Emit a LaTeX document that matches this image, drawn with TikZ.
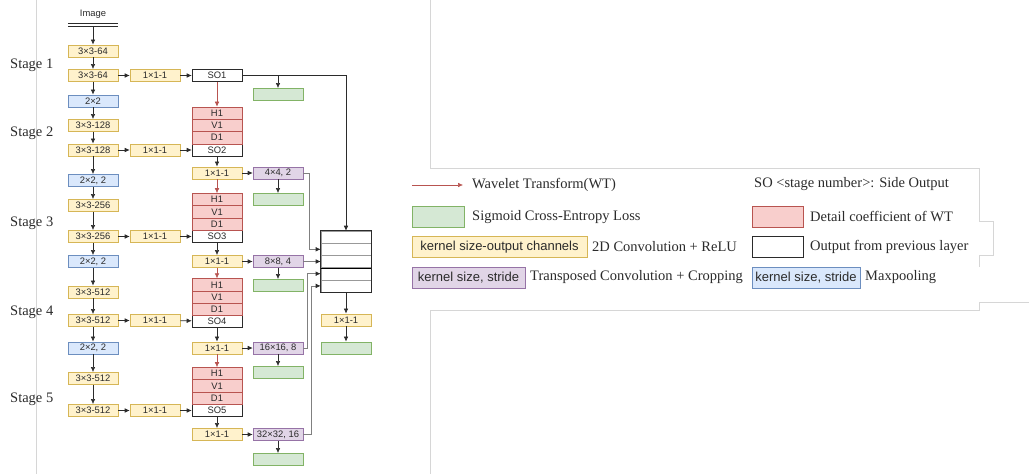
\documentclass[tikz,border=0pt]{standalone}
\usepackage{fontspec}
\setmainfont{Liberation Sans}
\newfontfamily\legendserif{Liberation Serif}
\usetikzlibrary{arrows.meta}

\definecolor{yfill}{HTML}{FFF2CC}\definecolor{ydraw}{HTML}{D6B656}
\definecolor{bfill}{HTML}{DAE8FC}\definecolor{bdraw}{HTML}{6C8EBF}
\definecolor{gfill}{HTML}{D5E8D4}\definecolor{gdraw}{HTML}{82B366}
\definecolor{rfill}{HTML}{F8CECC}\definecolor{rdraw}{HTML}{B85450}
\definecolor{pfill}{HTML}{E1D5E7}\definecolor{pdraw}{HTML}{9673A6}
\definecolor{ink}{HTML}{2B2B2B}
\definecolor{framegray}{HTML}{D6D6D6}

\begin{document}
\begin{tikzpicture}[x=1pt,y=-1pt,
  blk/.style={draw, minimum width=50pt, minimum height=12.3pt, inner sep=0pt,
    line width=0.6pt, font=\fontsize{9.4}{10}\selectfont, text=ink},
  conv/.style={blk, fill=yfill, draw=ydraw},
  pool/.style={blk, fill=bfill, draw=bdraw},
  loss/.style={blk, fill=gfill, draw=gdraw},
  wt/.style={blk, fill=rfill, draw=rdraw},
  deconv/.style={blk, fill=pfill, draw=pdraw},
  so/.style={blk, fill=white, draw=ink},
  cell/.style={draw=black!40, minimum width=50pt, minimum height=12.2pt, inner sep=0pt, line width=0.6pt},
  arr/.style={draw=ink, line width=0.6pt, -{Latex[length=5pt,width=4.6pt]}},
  wtarr/.style={draw=rdraw, line width=0.6pt, -{Latex[length=5pt,width=4.6pt]}},
  fuse/.style={draw=black!50, line width=0.6pt, -{Latex[length=5pt,width=4.6pt,color=ink]}},
  serif/.style={anchor=west, inner sep=0pt, text=ink, font=\legendserif\fontsize{14.5}{16}\selectfont},
  legbox/.style={draw, minimum height=21pt, inner sep=0pt, line width=0.8pt, text=ink,
    font=\fontsize{13}{15}\selectfont},
  framed/.style={draw=framegray, line width=0.8pt}
  ]
\useasboundingbox (0,0) rectangle (1029,474);

% page frame lines
\draw[framed] (36,0) -- (36,474);
\draw[framed] (430,0) -- (430,168) -- (979,168) -- (979,221) -- (993,221) -- (993,255) -- (979,255) -- (979,267);
\draw[framed] (430,474) -- (430,310) -- (979,310) -- (979,302) -- (1029,302);

% stage labels
\node[serif] (st1) at (10,65) {Stage 1};
\node[serif] (st2) at (10,133) {Stage 2};
\node[serif] (st3) at (10,223) {Stage 3};
\node[serif] (st4) at (10,312) {Stage 4};
\node[serif] (st5) at (10,399) {Stage 5};

% input
\node[font=\fontsize{9.4}{10}\selectfont, text=ink] (img) at (93,14) {Image};
\node[minimum width=50pt, minimum height=2.5pt, inner sep=0pt] (bar) at (93,25.2) {};
\draw[ink, line width=0.6pt] (bar.north west) -- (bar.north east) (bar.south west) -- (bar.south east);

% backbone
\node[conv] (a1) at (93,51) {3×3-64};
\node[conv] (a2) at (93,75.5) {3×3-64};
\node[pool] (p1) at (93,101) {2×2};
\node[conv] (a3) at (93,125.5) {3×3-128};
\node[conv] (a4) at (93,150) {3×3-128};
\node[pool] (p2) at (93,180.5) {2×2, 2};
\node[conv] (a5) at (93,205.5) {3×3-256};
\node[conv] (a6) at (93,236.5) {3×3-256};
\node[pool] (p3) at (93,261.5) {2×2, 2};
\node[conv] (a7) at (93,292) {3×3-512};
\node[conv] (a8) at (93,320.5) {3×3-512};
\node[pool] (p4) at (93,348) {2×2, 2};
\node[conv] (a9) at (93,378.5) {3×3-512};
\node[conv] (a10) at (93,410.5) {3×3-512};

% side 1x1 convolutions
\node[conv] (b1) at (155,75.5) {1×1-1};
\node[conv] (b2) at (155,150) {1×1-1};
\node[conv] (b3) at (155,236.5) {1×1-1};
\node[conv] (b4) at (155,320.5) {1×1-1};
\node[conv] (b5) at (155,410.5) {1×1-1};

% side outputs with wavelet detail coefficients
\node[so] (so1) at (217,75.5) {SO1};

\node[so] (so2) at (217,150) {SO2};
\node[wt] (d2) at (217,137.7) {D1};
\node[wt] (v2) at (217,125.4) {V1};
\node[wt] (h2) at (217,113.1) {H1};

\node[so] (so3) at (217,236.5) {SO3};
\node[wt] (d3) at (217,224.2) {D1};
\node[wt] (v3) at (217,211.9) {V1};
\node[wt] (h3) at (217,199.6) {H1};

\node[so] (so4) at (217,321) {SO4};
\node[wt] (d4) at (217,308.8) {D1};
\node[wt] (v4) at (217,296.8) {V1};
\node[wt] (h4) at (217,284.8) {H1};

\node[so] (so5) at (217,410.5) {SO5};
\node[wt] (d5) at (217,398.2) {D1};
\node[wt] (v5) at (217,385.9) {V1};
\node[wt] (h5) at (217,373.6) {H1};

% post side-output convolutions and upsampling
\node[conv] (c2) at (217,173) {1×1-1};
\node[conv] (c3) at (217,261.5) {1×1-1};
\node[conv] (c4) at (217,348) {1×1-1};
\node[conv] (c5) at (217,434.5) {1×1-1};

\node[deconv] (u2) at (278,173) {4×4, 2};
\node[deconv] (u3) at (278,261.5) {8×8, 4};
\node[deconv] (u4) at (278,348) {16×16, 8};
\node[deconv] (u5) at (278,434.5) {32×32, 16};

% losses
\node[loss] (g1) at (278,94.5) {};
\node[loss] (g2) at (278,199.5) {};
\node[loss] (g3) at (278,285.5) {};
\node[loss] (g4) at (278,372.5) {};
\node[loss] (g5) at (278,459.5) {};

% fusion stack
\node[cell] (r1) at (346,237.1) {};
\node[cell] (r2) at (346,249.3) {};
\node[cell] (r3) at (346,261.5) {};
\node[cell] (r4) at (346,273.7) {};
\node[cell] (r5) at (346,285.9) {};
\draw[ink, line width=0.7pt] (r1.north west) rectangle (r5.south east);
\draw[black, line width=0.7pt] (r3.south west) -- (r3.south east);
\node[conv] (e1) at (346,320) {1×1-1};
\node[loss] (ge) at (346,348) {};

% backbone connectors
\draw[arr] (bar.south) -- (a1);
\draw[arr] (a1) -- (a2);
\draw[arr] (a2) -- (p1);
\draw[arr] (p1) -- (a3);
\draw[arr] (a3) -- (a4);
\draw[arr] (a4) -- (p2);
\draw[arr] (p2) -- (a5);
\draw[arr] (a5) -- (a6);
\draw[arr] (a6) -- (p3);
\draw[arr] (p3) -- (a7);
\draw[arr] (a7) -- (a8);
\draw[arr] (a8) -- (p4);
\draw[arr] (p4) -- (a9);
\draw[arr] (a9) -- (a10);

% side branches
\foreach \s in {1,...,5}{
  \pgfmathtruncatemacro{\k}{2*\s}
  \draw[arr] (a\k) -- (b\s);
  \draw[arr] (b\s) -- (so\s);
}

% wavelet transforms
\draw[wtarr] (so1) -- (h2);
\draw[wtarr] (c2) -- (h3);
\draw[wtarr] (c3) -- (h4);
\draw[wtarr] (c4) -- (h5);

% side output heads
\foreach \s in {2,...,5}{
  \draw[arr] (so\s) -- (c\s);
  \draw[arr] (c\s) -- (u\s);
  \draw[arr] (u\s) -- (g\s);
}

% first side output to fusion and loss
\coordinate (t1) at (g1.north |- so1.east);
\draw[ink, line width=0.6pt] (so1.east) -- (t1);
\draw[arr] (t1) -| (r1.north);
\draw[arr] (t1) -- (g1);

% upsampled maps to fusion
\draw[fuse] (u2.east) -- ++(6,0) |- (r2.west);
\draw[fuse] (u3.east) -- (r3.west);
\draw[fuse] (u4.east) -- ++(4,0) |- (r4.west);
\draw[fuse] (u5.east) -- ++(8,0) |- (r5.west);

% fused output
\draw[arr] (r5.south) -- (e1);
\draw[arr] (e1) -- (ge);

% legend
\coordinate (wa) at (412,185);
\coordinate (wb) at (463,185);
\draw[wtarr] (wa) -- (wb);
\node[serif] (lwt) at (472,185) {Wavelet Transform(WT)};
\node[serif] (lso) at (754,184) {SO <stage number>: Side Output};

\node[legbox, fill=gfill, draw=gdraw, minimum width=52pt] (lg) at (438,216.5) {};
\node[serif] (lgt) at (472,217) {Sigmoid Cross-Entropy Loss};
\node[legbox, fill=rfill, draw=rdraw, minimum width=51pt] (lr) at (777.5,216.5) {};
\node[serif] (lrt) at (810,217) {Detail coefficient of WT};

\node[legbox, fill=yfill, draw=ydraw, minimum width=175pt] (ly) at (499.5,247) {kernel size-output channels};
\node[serif] (lyt) at (592,247) {2D Convolution + ReLU};
\node[legbox, fill=white, draw=ink, minimum width=51pt] (lw) at (777.5,247) {};
\node[serif] (lwt2) at (810,247) {Output from previous layer};

\node[legbox, fill=pfill, draw=pdraw, minimum width=113pt] (lp) at (468.5,277.5) {kernel size, stride};
\node[serif] (lpt) at (530,277) {Transposed Convolution + Cropping};
\node[legbox, fill=bfill, draw=bdraw, minimum width=108pt] (lb) at (806,277.5) {kernel size, stride};
\node[serif] (lbt) at (865,277) {Maxpooling};
\end{tikzpicture}
\end{document}
